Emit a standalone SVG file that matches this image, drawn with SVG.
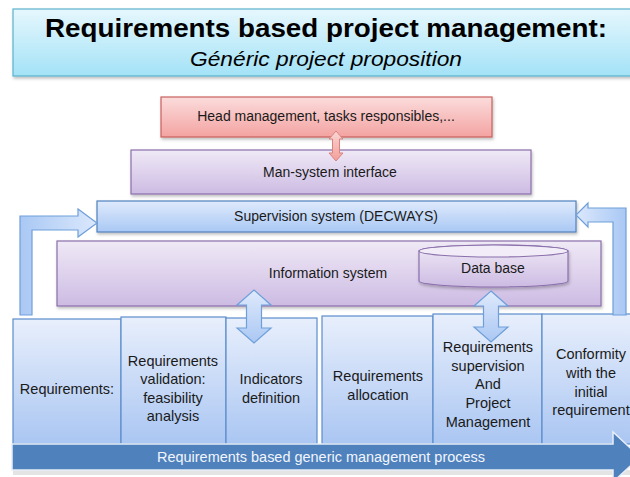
<svg xmlns="http://www.w3.org/2000/svg" width="630" height="477" viewBox="0 0 630 477">
<defs>
<linearGradient id="gTitle" x1="0" y1="0" x2="0" y2="1"><stop offset="0" stop-color="#e6f7fd"/><stop offset="1" stop-color="#a3e2f7"/></linearGradient>
<linearGradient id="gRed" x1="0" y1="0" x2="0" y2="1"><stop offset="0" stop-color="#fbdcdc"/><stop offset="1" stop-color="#f3a3a1"/></linearGradient>
<linearGradient id="gPurple" x1="0" y1="0" x2="0" y2="1"><stop offset="0" stop-color="#efe9f6"/><stop offset="1" stop-color="#cdbbe3"/></linearGradient>
<linearGradient id="gBlue" x1="0" y1="0" x2="0" y2="1"><stop offset="0" stop-color="#dfeafc"/><stop offset="1" stop-color="#a9c8f4"/></linearGradient>
<linearGradient id="gStep" x1="0" y1="0" x2="0" y2="1"><stop offset="0" stop-color="#e8effc"/><stop offset="1" stop-color="#aac6f2"/></linearGradient>
<linearGradient id="gArrow" x1="0" y1="0" x2="1" y2="0"><stop offset="0" stop-color="#a9c8f4"/><stop offset="1" stop-color="#dbe8fc"/></linearGradient>
<linearGradient id="gArrowR" x1="1" y1="0" x2="0" y2="0"><stop offset="0" stop-color="#a9c8f4"/><stop offset="1" stop-color="#dbe8fc"/></linearGradient>
<linearGradient id="gDbl" x1="0" y1="0" x2="0" y2="1"><stop offset="0" stop-color="#dfeafc"/><stop offset="1" stop-color="#aac7f3"/></linearGradient>
<linearGradient id="gRedArrow" x1="0" y1="0" x2="0" y2="1"><stop offset="0" stop-color="#fbd6d4"/><stop offset="1" stop-color="#f29e9a"/></linearGradient>
<filter id="sh" x="-10%" y="-10%" width="120%" height="140%"><feDropShadow dx="1" dy="2" stdDeviation="1.5" flood-color="#000" flood-opacity="0.25"/></filter>
</defs>
<style>
text{font-family:"Liberation Sans",Arial,sans-serif;fill:#1a1a1a;text-anchor:middle}
.lbl{font-size:14px}
.st{font-size:14.5px}
.red{fill:url(#gRed);stroke:#c9605d;stroke-width:1.2}
.pur{fill:url(#gPurple);stroke:#8a6fab;stroke-width:1.2}
.blu{fill:url(#gBlue);stroke:#4f81bd;stroke-width:1.2}
.step{fill:url(#gStep);stroke:#5b8dcc;stroke-width:1.2}
.arr{stroke:#6f9fd9;stroke-width:1.2}
</style>
<g id="title">
<rect x="13" y="9" width="630" height="67" fill="url(#gTitle)" stroke="#5ab3cc" stroke-width="1.2" filter="url(#sh)"/>
<text x="326" y="37" style="font-size:26px;font-weight:bold;fill:#000" textLength="562" lengthAdjust="spacingAndGlyphs">Requirements  based project management:</text>
<text x="326" y="66" style="font-size:20px;font-style:italic;fill:#000" textLength="272" lengthAdjust="spacingAndGlyphs">Généric project proposition</text>
</g>
<g id="head">
<rect x="161" y="97" width="331" height="40" class="red" filter="url(#sh)"/>
<text x="326" y="121" class="lbl">Head management, tasks responsibles,...</text>
</g>
<g id="man-system">
<rect x="131" y="150" width="400" height="44" class="pur" filter="url(#sh)"/>
<text x="330" y="177" class="lbl">Man-system interface</text>
</g>
<g id="supervision">
<rect x="97" y="201" width="479" height="31" class="blu" filter="url(#sh)"/>
<text x="336" y="221" class="lbl">Supervision system (DECWAYS)</text>
</g>
<g id="information">
<rect x="57" y="241" width="544" height="65" class="pur" filter="url(#sh)"/>
<text x="328" y="278" class="lbl">Information system</text>
</g>
<g id="database">
<path d="M419,251 L419,281 A74.5,6 0 0 0 568,281 L568,251 A74.5,6 0 0 0 419,251 Z" class="pur" filter="url(#sh)"/>
<ellipse cx="493.5" cy="251" rx="74.5" ry="6" fill="#f1ecf7" stroke="#8a6fab" stroke-width="1.2"/>
<text x="493" y="273" class="lbl">Data base</text>
</g>
<g id="steps">
<g id="step1"><rect x="13" y="319" width="108" height="125" class="step"/><text x="67" y="394" class="st">Requirements:</text></g>
<g id="step2"><rect x="121" y="317" width="105" height="127" class="step"/>
<text x="173" y="366" class="st">Requirements</text><text x="173" y="384" class="st">validation:</text><text x="173" y="403" class="st">feasibility</text><text x="173" y="421" class="st">analysis</text></g>
<g id="step3"><rect x="226" y="318" width="91" height="126" class="step"/>
<text x="271" y="384" class="st">Indicators</text><text x="271" y="403" class="st">definition</text></g>
<g id="step4"><rect x="322" y="316" width="111" height="128" class="step"/>
<text x="378" y="381" class="st">Requirements</text><text x="378" y="400" class="st">allocation</text></g>
<g id="step5"><rect x="433" y="314" width="109" height="130" class="step"/>
<text x="488" y="352" class="st">Requirements</text><text x="488" y="371" class="st">supervision</text><text x="488" y="389" class="st">And</text><text x="488" y="408" class="st">Project</text><text x="488" y="427" class="st">Management</text></g>
<g id="step6"><rect x="542" y="314" width="100" height="130" class="step"/>
<text x="591" y="359" class="st">Conformity</text><text x="591" y="378" class="st">with the</text><text x="591" y="397" class="st">initial</text><text x="591" y="415" class="st">requirement</text></g>
</g>
<g id="process">
<rect x="13" y="470" width="620" height="5" fill="#e4e4e4"/>
<path d="M12,444 L613,444 L613,432 L640,457 L613,482 L613,470 L12,470 Z" fill="#4f81bd" stroke="#e8eef8" stroke-width="1.5"/>
<text x="321" y="462" style="font-size:14px;fill:#f2f6fc" textLength="328" lengthAdjust="spacingAndGlyphs">Requirements based generic management process</text>
</g>
<g id="connectors">
<path d="M20,315 L20,216 L78,216 L78,209 L97,223 L78,237 L78,230 L32,230 L32,315 Z" fill="url(#gArrow)" class="arr"/>
<path d="M626,315 L626,208 L588,208 L588,203 L576,215 L588,227 L588,222 L613,222 L613,315 Z" fill="url(#gArrowR)" class="arr"/>
<path d="M254,290 L271,305 L261.5,305 L261.5,328 L271,328 L254,343 L237,328 L246.5,328 L246.5,305 L237,305 Z" fill="url(#gDbl)" class="arr"/>
<path d="M491,291 L508,306 L498.5,306 L498.5,327 L508,327 L491,342 L474,327 L483.5,327 L483.5,306 L474,306 Z" fill="url(#gDbl)" class="arr"/>
<path d="M336,131 L343,139 L339.5,139 L339.5,153 L343,153 L336,161 L329,153 L332.5,153 L332.5,139 L329,139 Z" fill="url(#gRedArrow)" stroke="#d9827e" stroke-width="1"/>
</g>
</svg>
